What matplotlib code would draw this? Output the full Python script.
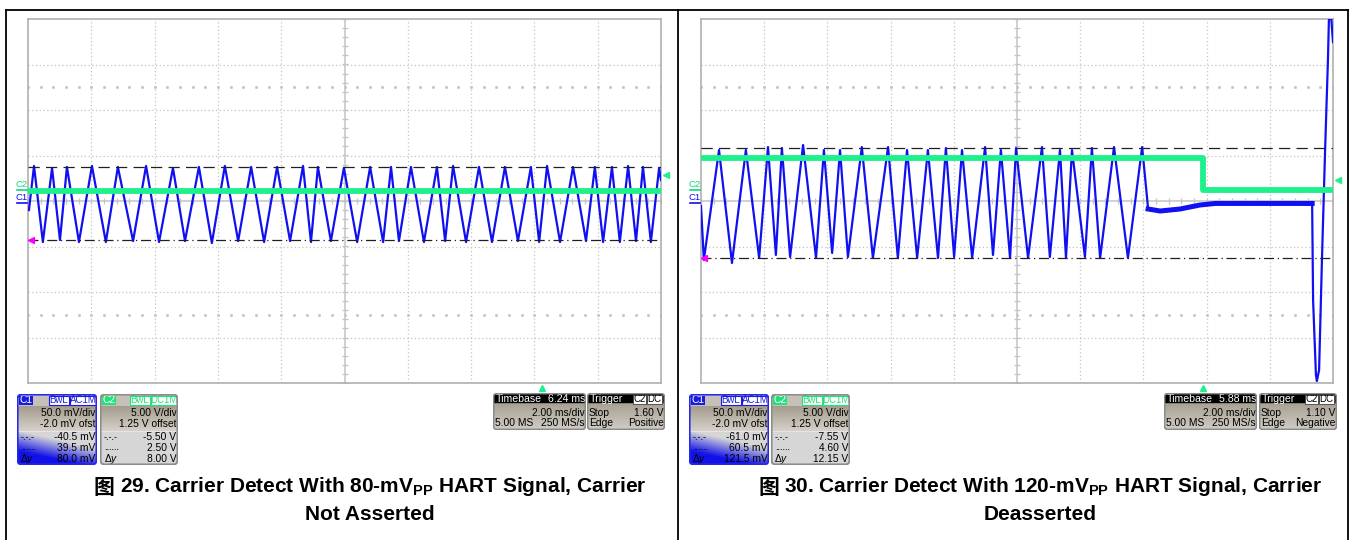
import numpy as np
import matplotlib.pyplot as plt
from matplotlib.patches import FancyBboxPatch, Rectangle

plt.rcParams['mathtext.fontset'] = 'custom'
plt.rcParams['mathtext.bf'] = 'Liberation Sans:bold'
plt.rcParams['mathtext.rm'] = 'Liberation Sans'

# ---- data (time in ms from left screen edge, C1 in mV, C2 in V) ----
ms_per_div = 2.0
c1_scale, c1_offset = 50.0, -2.0
c2_scale, c2_offset = 5.0, 1.25

# figure 29: 80 mVpp, carrier not asserted
t29_c1 = [0.03, 0.19, 0.47, 0.76, 1.01, 1.23, 1.61, 2.02, 2.46, 2.84, 3.32, 3.73, 4.14, 4.58,
          4.96, 5.40, 5.81, 6.22, 6.64, 7.05, 7.46, 7.87, 8.28, 8.69, 8.94, 9.16, 9.57, 9.98,
          10.40, 10.81, 11.22, 11.47, 11.72, 12.10, 12.51, 12.92, 13.18, 13.43, 13.84, 14.25,
          14.66, 15.07, 15.48, 15.89, 16.15, 16.40, 16.81, 17.22, 17.63, 17.91, 18.17, 18.45,
          18.70, 18.96, 19.21, 19.43, 19.68, 19.94, 20.0]
v29_c1 = [-7.9, 40.5, -43.1, 38.3, -40.9, 39.4, -43.1, 40.5, -43.1, 39.4, -42.0, 40.5, -43.1, 38.3,
          -42.0, 39.4, -44.2, 40.5, -42.0, 39.4, -43.1, 39.4, -42.0, 40.5, -43.1, 39.4, -42.0, 38.3,
          -43.1, 39.4, -43.1, 39.4, -42.0, 39.4, -43.1, 39.4, -42.0, 40.5, -43.1, 39.4,
          -43.1, 39.4, -42.0, 39.4, -43.1, 40.5, -43.1, 39.4, -42.0, 39.4, -43.1, 39.4,
          -43.1, 40.5, -42.0, 39.4, -43.1, 38.3, 25.1]
t29_c2 = [0.0, 20.0]
v29_c2 = [-0.1, -0.1]
cur29 = [39.5, -40.5]
trig29 = 1.60
delay29 = 6.24

# figure 30: 120 mVpp, carrier deasserted
t30_c1 = [0.00, 0.09, 0.57, 0.98, 1.42, 1.84, 2.12, 2.37, 2.56, 2.82, 3.23, 3.64, 3.89, 4.15,
          4.40, 4.65, 5.09, 5.44, 5.92, 6.23, 6.52, 6.84, 7.18, 7.50, 7.75, 8.01, 8.26, 8.58,
          8.99, 9.24, 9.49, 9.78, 9.97, 10.35, 10.79, 11.04, 11.36, 11.55, 11.74, 12.15, 12.37,
          12.63, 13.07, 13.51, 13.96, 14.15, 14.53, 15.16, 15.79, 16.27, 19.34, 19.37, 19.46,
          19.49, 19.56, 19.65, 19.75, 19.84, 19.87, 19.94, 20.00]
v30_c1 = [-3.5, -62.8, 58.0, -66.1, 58.0, -60.6, 61.3, -57.3, 60.2, -59.5, 63.5, -60.6, 58.0, -55.1,
          58.0, -59.5, 61.3, -60.6, 61.3, -60.6, 58.0, -60.6, 58.0, -60.6, 60.2, -59.5, 58.0, -60.6,
          61.3, -57.3, 58.0, -60.6, 60.2, -60.6, 61.3, -59.5, 58.0, -60.6, 58.0, -59.5, 60.2,
          -60.6, 61.3, -60.6, 61.3, -6.8, -9.0, -6.8, -2.4, -0.7, -0.7, -106.8, -189.2, -195.8,
          -183.7, -62.8, 58.0, 156.9, 200.9, 205.0, 176.7]
t30_c2 = [0.0, 15.88, 15.88, 20.0]
v30_c2 = [3.48, 3.48, -0.07, -0.07]
cur30 = [60.5, -61.0]
trig30 = 1.10
delay30 = 5.88

c1_29 = ['50.0 mV/div', '-2.0 mV ofst', '-40.5 mV', '39.5 mV', '80.0 mV']
c2_29 = ['5.00 V/div', '1.25 V offset', '-5.50 V', '2.50 V', '8.00 V']
c1_30 = ['50.0 mV/div', '-2.0 mV ofst', '-61.0 mV', '60.5 mV', '121.5 mV']
c2_30 = ['5.00 V/div', '1.25 V offset', '-7.55 V', '4.60 V', '12.15 V']
tb29 = ['6.24 ms', '2.00 ms/div', '5.00 MS', '250 MS/s']
tb30 = ['5.88 ms', '2.00 ms/div', '5.00 MS', '250 MS/s']
tr29 = ['1.60 V', 'Positive']
tr30 = ['1.10 V', 'Negative']

fig_mark = '图'
cap29 = [r'29. Carrier Detect With 80-mV$_{\mathbf{PP}}$ HART Signal, Carrier', 'Not Asserted']
cap30 = [r'30. Carrier Detect With 120-mV$_{\mathbf{PP}}$ HART Signal, Carrier', 'Deasserted']

BLUE = '#1010f2'
GREEN = '#1ef08c'
GRID = '#c4c4c4'
FONT = ['Liberation Sans', 'DejaVu Sans']

W, H = 1349, 540
fig = plt.figure(figsize=(W / 100, H / 100), dpi=100)


def frac(x, y, w, h):
    return [x / W, 1 - (y + h) / H, w / W, h / H]


# page frame
frame = fig.add_axes([0, 0, 1, 1])
frame.set_xlim(0, W)
frame.set_ylim(H, 0)
frame.axis('off')
frame.plot([6, 1348], [10, 10], color='black', lw=1.3)
for xv in [6, 678, 1348]:
    frame.plot([xv, xv], [10, 540], color='black', lw=1.3)


def scope(x0, w, t1, v1, t2, v2, cur, trig, delay):
    rect = frac(x0, 19, w, 364)
    ax = fig.add_axes(rect)
    ax.set_xlim(-5, 5)
    ax.set_ylim(-4, 4)
    ax.set_xticks([])
    ax.set_yticks([])
    for s in ax.spines.values():
        s.set_color('#b0b0b0')
        s.set_linewidth(1.2)
    for k in range(-4, 5):
        if k:
            ax.axvline(k, color=GRID, lw=0.9, ls=(0, (1, 2)))
    for k in range(-3, 4):
        if k:
            ax.axhline(k, color=GRID, lw=0.9, ls=(0, (1, 2)))
    ax.axvline(0, color=GRID, lw=1.1)
    ax.axhline(0, color=GRID, lw=1.1)
    tx = np.arange(-5, 5.01, 0.2)
    ax.plot(tx, 0 * tx, ls='none', marker='|', ms=5, mew=0.9, color=GRID)
    ty = np.arange(-4, 4.01, 0.2)
    ax.plot(0 * ty, ty, ls='none', marker='_', ms=5, mew=0.9, color=GRID)
    for yy in (-2.5, 2.5):
        ax.plot(tx, 0 * tx + yy, ls='none', marker='s', ms=1.0, color=GRID)
    # trigger time marker
    ax.plot((delay + 10) / ms_per_div - 5, -4.12, marker='^', ms=5, color=GREEN, clip_on=False)

    ylo1 = -4 * c1_scale - c1_offset
    ylo2 = -4 * c2_scale - c2_offset
    a1 = fig.add_axes(rect)
    a1.set_xlim(0, 10 * ms_per_div)
    a1.set_ylim(ylo1, ylo1 + 8 * c1_scale)
    a1.axis('off')
    a1.plot(t1, v1, color=BLUE, lw=1.6)
    a1.axhline(cur[0], color='#202020', lw=0.9, ls=(0, (9, 5)))
    a1.axhline(cur[1], color='#202020', lw=0.9, ls=(0, (8, 3, 1, 3)))
    a1.plot(0.1, cur[1], marker='<', ms=4, color='#ff00ff', clip_on=False)

    a2 = fig.add_axes(rect)
    a2.set_xlim(0, 10 * ms_per_div)
    a2.set_ylim(ylo2, ylo2 + 8 * c2_scale)
    a2.axis('off')
    a2.plot(t2, v2, color=GREEN, lw=4.2, solid_capstyle='butt')
    a2.plot(20.17, trig, marker='<', ms=5, color=GREEN, clip_on=False)

    # ground markers at the left edge
    for a, col, name in ((a2, '#12d878', 'C2'), (a1, BLUE, 'C1')):
        a.plot([-0.36, -0.04], [0, 0], color=col, lw=1.2, clip_on=False)
        a.annotate(name, xy=(0, 0), xytext=(-6, 1), textcoords='offset pixels',
                   ha='center', va='bottom', fontsize=6.8, color=col, family=FONT)
    return a1


a29 = scope(28, 633, t29_c1, v29_c1, t29_c2, v29_c2, cur29, trig29, delay29)
a30 = scope(701, 632, t30_c1, v30_c1, t30_c2, v30_c2, cur30, trig30, delay30)
# noisy flat part after the burst drawn thicker
a30.plot(t30_c1[45:51], v30_c1[45:51], color=BLUE, lw=3.6)


def box_axes(x, y, w, h):
    a = fig.add_axes(frac(x, y, w, h))
    a.set_xlim(0, w)
    a.set_ylim(h, 0)
    a.axis('off')
    return a


def hexrgb(c):
    c = c.lstrip('#')
    return np.array([int(c[i:i + 2], 16) / 255 for i in (0, 2, 4)])


def vgrad(h, w, c0, c1):
    f = np.linspace(0, 1, h)[:, None, None]
    img = hexrgb(c0) * (1 - f) + hexrgb(c1) * f
    return np.repeat(img, w, axis=1)


def label(a, x, y, s, ha='left', col='black', size=7.4, style='normal'):
    a.text(x, y, s, ha=ha, va='center', fontsize=size, color=col, family=FONT, style=style)


def tag(a, x, w, s, fg, bg, edge):
    a.add_patch(Rectangle((x, 1.5), w, 9, facecolor=bg, edgecolor=edge, lw=0.8))
    a.text(x + w / 2, 6.2, s, ha='center', va='center', fontsize=7, color=fg, family=FONT)


def channel_box(x, name, rows, w, col, edge, coupling, blue_bg):
    h = 71
    a = box_axes(x, 394, w, h)
    clip = FancyBboxPatch((0.6, 0.6), w - 1.2, h - 1.2, boxstyle='round,pad=0,rounding_size=4',
                          facecolor='none', edgecolor=edge, lw=1.4, zorder=5)
    a.add_patch(clip)
    img = np.zeros((h, w, 3))
    img[:12] = hexrgb('#c6c1b8')
    img[12:37] = vgrad(25, w, '#a49c8e', '#d4d0c8')
    yy, xx = np.mgrid[0:h - 37, 0:w]
    if blue_bg:
        k = np.clip((yy / (h - 37)) * 1.7 - (xx / w) * 0.9 + 0.05, 0, 1)[..., None]
    else:
        k = np.zeros((h - 37, w, 1))
    img[37:] = hexrgb('#d6d6d6') * (1 - k) + hexrgb('#1212e8') * k
    im = a.imshow(img, extent=(0, w, h, 0), aspect='auto', interpolation='bilinear')
    im.set_clip_path(clip)
    a.add_patch(Rectangle((2, 1.5), 14, 9.5, facecolor=col, edgecolor='none', zorder=3))
    a.text(9, 6.3, name, ha='center', va='center', fontsize=7.4, color='white', family=FONT, zorder=4)
    tag(a, w - 48, 20, 'BwL', col, 'white', col)
    tag(a, w - 27, 26, coupling, col, 'white', col)
    ys = [19, 30, 43, 54, 65]
    for yv, s in zip(ys, rows):
        label(a, w - 1.5, yv, s, ha='right')
    label(a, 4, 43, '-.-.-', size=6.5)
    label(a, 4, 53, '......', size=6.5)
    label(a, 3.5, 65, r'$\Delta$y', style='italic')
    a.plot([0, w], [36.5, 36.5], color='#e8e8e8', lw=0.6)


def time_box(x, rows):
    w, h = 93, 37
    a = box_axes(x, 393, w, h)
    clip = FancyBboxPatch((0.6, 0.6), w - 1.2, h - 1.2, boxstyle='round,pad=0,rounding_size=3',
                          facecolor='none', edgecolor='#8a8a8a', lw=1.2, zorder=5)
    a.add_patch(clip)
    img = np.zeros((h, w, 3))
    img[:11] = hexrgb('#000000')
    img[11:] = vgrad(h - 11, w, '#a8a294', '#d0ccc4')
    im = a.imshow(img, extent=(0, w, h, 0), aspect='auto')
    im.set_clip_path(clip)
    label(a, 2.5, 6, 'Timebase', col='white', size=7.6)
    label(a, w - 1, 6, rows[0], ha='right', col='white', size=7.6)
    label(a, w - 1, 19.5, rows[1], ha='right')
    label(a, 2, 30.5, rows[2])
    label(a, w - 1, 30.5, rows[3], ha='right')


def trig_box(x, rows):
    w, h = 78, 37
    a = box_axes(x, 393, w, h)
    clip = FancyBboxPatch((0.6, 0.6), w - 1.2, h - 1.2, boxstyle='round,pad=0,rounding_size=3',
                          facecolor='none', edgecolor='#8a8a8a', lw=1.2, zorder=5)
    a.add_patch(clip)
    img = np.zeros((h, w, 3))
    img[:11] = hexrgb('#000000')
    img[11:] = vgrad(h - 11, w, '#a8a294', '#d0ccc4')
    im = a.imshow(img, extent=(0, w, h, 0), aspect='auto')
    im.set_clip_path(clip)
    label(a, 2.5, 6, 'Trigger', col='white', size=7.6)
    a.add_patch(Rectangle((w - 32, 1.5), 13, 9, facecolor='white', edgecolor='#404040', lw=0.6, zorder=3))
    a.add_patch(Rectangle((w - 18, 1.5), 15, 9, facecolor='white', edgecolor='#404040', lw=0.6, zorder=3))
    a.text(w - 25.5, 6.2, 'C2', ha='center', va='center', fontsize=7, family=FONT, zorder=4)
    a.text(w - 10.5, 6.2, 'DC', ha='center', va='center', fontsize=7, family=FONT, zorder=4)
    label(a, 2, 19.5, 'Stop')
    label(a, w - 1, 19.5, rows[0], ha='right')
    label(a, 2, 30.5, 'Edge')
    label(a, w - 1, 30.5, rows[1], ha='right')


channel_box(17, 'C1', c1_29, 80, '#1a1ae0', '#2828e6', 'AC1M', True)
channel_box(100, 'C2', c2_29, 78, '#22e07a', '#8c8c8c', 'DC1M', False)
time_box(493, tb29)
trig_box(587, tr29)
channel_box(689, 'C1', c1_30, 80, '#1a1ae0', '#2828e6', 'AC1M', True)
channel_box(771, 'C2', c2_30, 79, '#22e07a', '#8c8c8c', 'DC1M', False)
time_box(1164, tb30)
trig_box(1259, tr30)

# captions
capfont = ['Noto Sans CJK SC', 'DejaVu Sans']
for cx, cap in ((370, cap29), (1040, cap30)):
    body = frame.text(cx + 13, 487, cap[0], ha='center', va='center', fontsize=15,
                      fontweight='bold', family=FONT)
    frame.annotate(fig_mark, xy=(0, 0.5), xycoords=body, xytext=(-5, 0), textcoords='offset pixels',
                   ha='right', va='center', fontsize=15, fontweight='bold', family=capfont)
    frame.text(cx, 514, cap[1], ha='center', va='center', fontsize=15, fontweight='bold', family=FONT)

fig.savefig('out.png', dpi=100)
